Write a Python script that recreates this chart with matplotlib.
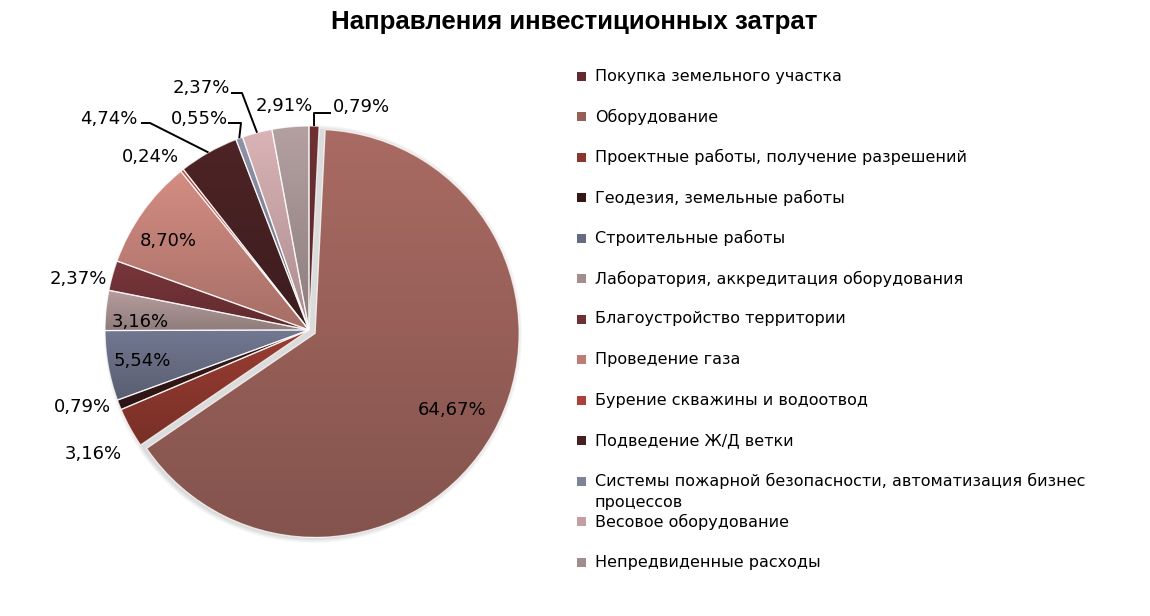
import numpy as np
import matplotlib
matplotlib.use("Agg")
import matplotlib.pyplot as plt
from matplotlib.patches import Rectangle, Wedge
from matplotlib.colors import to_rgb

W, H = 1150, 616

title = "Направления инвестиционных затрат"

categories = [
    "Покупка земельного участка",
    "Оборудование",
    "Проектные работы, получение разрешений",
    "Геодезия, земельные работы",
    "Строительные работы",
    "Лаборатория, аккредитация оборудования",
    "Благоустройство территории",
    "Проведение газа",
    "Бурение скважины и водоотвод",
    "Подведение Ж/Д ветки",
    "Системы пожарной безопасности, автоматизация бизнес\nпроцессов",
    "Весовое оборудование",
    "Непредвиденные расходы",
]
shares = [0.79, 64.67, 3.16, 0.79, 5.54, 3.16, 2.37, 8.70, 0.24, 4.74, 0.55, 2.37, 2.91]

# top colour of each slice gradient
colors_top = ["#6e3035", "#a96b63", "#9a3d32", "#3a1a1a", "#727891", "#b89e9e",
              "#7a363b", "#d48d83", "#c04a40", "#4e2426", "#8e93a8", "#dab3b6",
              "#b4a0a0"]
dark = 0.78

# label centres in pixel coords (from top-left)
label_xy = [(361, 107), (452, 410), (93, 454), (82, 407), (142, 361), (140, 322),
            (78, 279), (168, 241), (150, 157), (109, 119), (199, 119), (201, 88),
            (284, 106)]
# leader line elbows (pixel coords, from the text towards the slice)
leaders = {
    0: [(331, 113), (314, 113)],
    9: [(141, 123), (150, 123)],
    10: [(228, 123), (241, 123)],
    11: [(231, 93), (242, 93)],
}


def fy(y):
    return H - y


def pct(v):
    return f"{v:.2f}%".replace(".", ",")


fig = plt.figure(figsize=(W / 100, H / 100), dpi=100)
ax = fig.add_axes([0, 0, 1, 1])

cx, cy, R = 309, fy(330), 204
explode = [7 if v == max(shares) else 0 for v in shares]

# soft shadow under the pie
for k in range(6):
    ax.add_patch(Wedge((cx + 4, cy - 4), R + 1 + k * 0.8, 0, 360,
                       facecolor="black", edgecolor="none", alpha=0.025,
                       zorder=0))

wedges, _ = ax.pie(shares, startangle=90, counterclock=False, radius=R,
                   center=(cx, cy), explode=explode, colors=colors_top,
                   wedgeprops=dict(linewidth=0.9, edgecolor=(1, 1, 1, 0.75)))

g = np.linspace(0, 1, 256)[:, None, None]
for w, c in zip(wedges, colors_top):
    top = np.array(to_rgb(c))
    img = top * (1 - g) + top * dark * g
    bb = w.get_path().get_extents()
    im = ax.imshow(img, extent=[bb.x0, bb.x1, bb.y0, bb.y1], origin="upper",
                   aspect="auto", interpolation="bilinear", zorder=1)
    im.set_clip_path(w)
    w.set_facecolor("none")
    w.set_zorder(2)

for i, (w, v) in enumerate(zip(wedges, shares)):
    x, y = label_xy[i]
    ax.text(x, fy(y), pct(v), ha="center", va="center", fontsize=13,
            color="black", zorder=5)
    if i in leaders:
        th = np.deg2rad((w.theta1 + w.theta2) / 2)
        ex = w.center[0] + w.r * np.cos(th)
        ey = w.center[1] + w.r * np.sin(th)
        pts = [(px, fy(py)) for px, py in leaders[i]] + [(ex, ey)]
        ax.plot([p[0] for p in pts], [p[1] for p in pts], color="black",
                lw=1.4, zorder=4, solid_capstyle="butt")

ax.set_aspect("auto")
ax.set_xlim(0, W)
ax.set_ylim(0, H)
ax.axis("off")

# legend
row0, step = 76, 40.5
for i, (lab, c) in enumerate(zip(categories, colors_top)):
    yc = row0 + i * step
    mid = np.array(to_rgb(c)) * (1 + dark) / 2
    ax.add_patch(Rectangle((577, fy(yc) - 4.5), 9, 9, facecolor=mid,
                           edgecolor="none", zorder=3))
    for k, line in enumerate(lab.split("\n")):
        ax.text(595, fy(yc + 21 * k), line, ha="left", va="center",
                fontsize=11.5, color="black")

ax.text(574, fy(22), title, ha="center", va="center", fontsize=18.6,
        fontweight="bold", family="Liberation Sans")

fig.savefig("out.png", dpi=100)
